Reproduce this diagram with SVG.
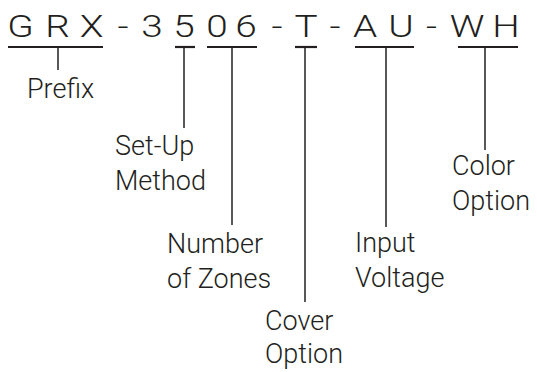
<svg xmlns="http://www.w3.org/2000/svg" width="537" height="372" viewBox="0 0 537 372">
<style>
.code{font-family:Roboto,"Liberation Sans",sans-serif;font-weight:300;font-size:31px;fill:#231f20;text-anchor:middle}
.lbl{font-family:Roboto,"Liberation Sans",sans-serif;font-weight:300;font-size:27px;fill:#231f20}
.ul{stroke:#231f20;stroke-width:2.2;fill:none}
.ln{stroke:#231f20;stroke-width:1.5;fill:none}
</style>
<rect width="537" height="372" fill="#fff"/>
<g id="code" transform="scale(1.25,1)">
<text class="code" y="37"><tspan x="16.4">G</tspan><tspan x="46">R</tspan><tspan x="73.2">X</tspan><tspan x="98.4">-</tspan><tspan x="121.6">3</tspan><tspan x="147.2">5</tspan><tspan x="173.6">0</tspan><tspan x="196.8">6</tspan><tspan x="221.6">-</tspan><tspan x="244.8">T</tspan><tspan x="268">-</tspan><tspan x="292">A</tspan><tspan x="320.8">U</tspan><tspan x="345.2">-</tspan><tspan x="373.6">W</tspan><tspan x="404.8">H</tspan></text>
</g>
<g id="connectors">
<line class="ul" x1="8" y1="47" x2="103" y2="47"/>
<line class="ln" x1="58" y1="47" x2="58" y2="70"/>
<line class="ul" x1="175" y1="47" x2="195" y2="47"/>
<line class="ln" x1="184" y1="47" x2="184" y2="128"/>
<line class="ul" x1="207" y1="47" x2="257" y2="47"/>
<line class="ln" x1="232" y1="47" x2="232" y2="225"/>
<line class="ul" x1="295" y1="47" x2="317" y2="47"/>
<line class="ln" x1="305" y1="47" x2="305" y2="302"/>
<line class="ul" x1="355" y1="47" x2="414" y2="47"/>
<line class="ln" x1="386" y1="47" x2="386" y2="227"/>
<line class="ul" x1="458" y1="47" x2="518" y2="47"/>
<line class="ln" x1="485" y1="47" x2="485" y2="150"/>
</g>
<g id="prefix"><text class="lbl" x="27" y="98">Prefix</text></g>
<g id="setup"><text class="lbl" x="115" y="155">Set-Up</text><text class="lbl" x="115" y="190">Method</text></g>
<g id="zones"><text class="lbl" x="167" y="253">Number</text><text class="lbl" x="167" y="288">of Zones</text></g>
<g id="cover"><text class="lbl" x="265" y="330">Cover</text><text class="lbl" x="265" y="363">Option</text></g>
<g id="voltage"><text class="lbl" x="355" y="252">Input</text><text class="lbl" x="355" y="287">Voltage</text></g>
<g id="color"><text class="lbl" x="452" y="175">Color</text><text class="lbl" x="452" y="210">Option</text></g>
</svg>
